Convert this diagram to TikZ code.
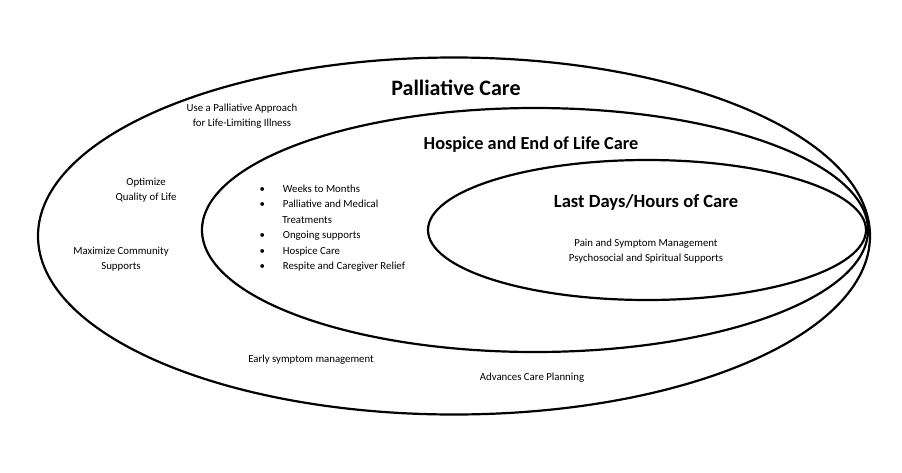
\documentclass[tikz,border=0pt]{standalone}
\usepackage{fontspec}
\setmainfont{Carlito}
\usetikzlibrary{shapes.geometric}
\begin{document}
\begin{tikzpicture}[x=1pt,y=-1pt]
		\tikzset{ring/.style = {draw,line width=2.2pt}}
		\tikzset{note/.style = {align=center,font=\fontsize{10.8}{15.5}\selectfont}}
		\tikzset{title/.style = {font=\bfseries}}
		\useasboundingbox (0,0) rectangle (902,472);
		% rings
		\node[ring,ellipse,minimum width=832,minimum height=357,inner sep=0] (pc) at (454,236) {};
		\node[ring,ellipse,minimum width=666,minimum height=244,inner sep=0] (hc) at (535,230) {};
		\node[ring,ellipse,minimum width=438,minimum height=140,inner sep=0] (ld) at (647,230) {};
		% titles
		\node[title,font=\bfseries\fontsize{22}{25}\selectfont] (tpc) at (456,88) {Palliative Care};
		\node[title,font=\bfseries\fontsize{18.3}{21}\selectfont] (thc) at (531,145) {Hospice and End of Life Care};
		\node[title,font=\bfseries\fontsize{18.6}{21}\selectfont] (tld) at (646,202) {Last Days/Hours of Care};
		% notes
		\node[note] (appr) at (242,116) {Use a Palliative Approach\\for Life-Limiting Illness};
		\node[note] (qual) at (146,190) {Optimize\\Quality of Life};
		\node[note] (comm) at (121,259) {Maximize Community\\Supports};
		\node[note] (early) at (311,360) {Early symptom management};
		\node[note] (plan) at (532,378) {Advances Care Planning};
		\node[note] (pain) at (646,251) {Pain and Symptom Management\\Psychosocial and Spiritual Supports};
		\node[note,align=left,anchor=north west] (list) at (256,181)
			{\textbullet\hspace{18pt}Weeks to Months\\
			 \textbullet\hspace{18pt}Palliative and Medical\\
			 \hspace{22.8pt}Treatments\\
			 \textbullet\hspace{18pt}Ongoing supports\\
			 \textbullet\hspace{18pt}Hospice Care\\
			 \textbullet\hspace{18pt}Respite and Caregiver Relief};
\end{tikzpicture}
\end{document}
